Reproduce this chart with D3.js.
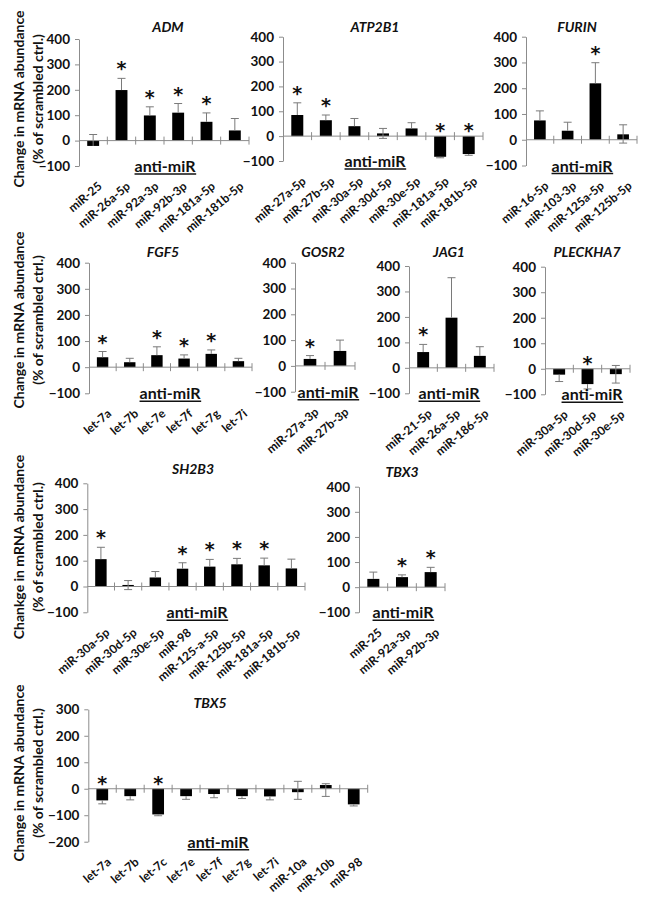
<!DOCTYPE html>
<html><head><meta charset="utf-8">
<script src="https://cdn.jsdelivr.net/npm/d3@7"></script>
<style>
body{margin:0;background:#fff}
svg{display:block}
text{font-family:Lato,'Open Sans',sans-serif;font-weight:700;fill:#111}
</style>
</head><body>
<svg id="c" width="651" height="902"></svg>
<script>
// ---------------- DATA ----------------
const yTicksA = [-100, 0, 100, 200, 300, 400];
const yTicksB = [-200, -100, 0, 100, 200, 300];
const axisTitle = "anti-miR";

const admCats = ["miR-25","miR-26a-5p","miR-92a-3p","miR-92b-3p","miR-181a-5p","miR-181b-5p"];
const admVals = [-21, 199, 99, 110, 74, 40];
const admErrUp = [45, 46, 34, 36, 35, 47];
const admErrDown = [0, 0, 0, 0, 0, 0];
const admSig = [0, 1, 1, 1, 1, 0];

const atpCats = ["miR-27a-5p","miR-27b-5p","miR-30a-5p","miR-30d-5p","miR-30e-5p","miR-181a-5p","miR-181b-5p"];
const atpVals = [85, 64, 40, 11, 31, -83, -72];
const atpErrUp = [49, 21, 31, 20, 23, 0, 0];
const atpErrDown = [0, 0, 0, 20, 0, 4, 5];
const atpSig = [1, 1, 0, 0, 0, 1, 1];

const furCats = ["miR-16-5p","miR-103-3p","miR-125a-5p","miR-125b-5p"];
const furVals = [75, 35, 219, 21];
const furErrUp = [37, 33, 80, 37];
const furErrDown = [0, 0, 0, 34];
const furSig = [0, 0, 1, 0];

const fgfCats = ["let-7a","let-7b","let-7e","let-7f","let-7g","let-7i"];
const fgfVals = [38, 19, 46, 33, 51, 23];
const fgfErrUp = [22, 15, 32, 14, 15, 11];
const fgfErrDown = [0, 0, 0, 0, 0, 0];
const fgfSig = [1, 0, 1, 1, 1, 0];

const gosCats = ["miR-27a-3p","miR-27b-3p"];
const gosVals = [27, 58];
const gosErrUp = [13, 42];
const gosErrDown = [0, 0];
const gosSig = [1, 0];

const jagCats = ["miR-21-5p","miR-26a-5p","miR-186-5p"];
const jagVals = [62, 197, 47];
const jagErrUp = [30, 157, 36];
const jagErrDown = [0, 0, 0];
const jagSig = [1, 0, 0];

const pleCats = ["miR-30a-5p","miR-30d-5p","miR-30e-5p"];
const pleVals = [-23, -60, -21];
const pleErrUp = [0, 0, 34];
const pleErrDown = [27, 19, 35];
const pleSig = [0, 1, 0];

const shCats = ["miR-30a-5p","miR-30d-5p","miR-30e-5p","miR-98","miR-125-a-5p","miR-125b-5p","miR-181a-5p","miR-181b-5p"];
const shVals = [106, 6, 35, 69, 77, 86, 82, 70];
const shErrUp = [46, 17, 23, 23, 28, 23, 28, 36];
const shErrDown = [0, 18, 0, 0, 0, 0, 0, 0];
const shSig = [1, 0, 0, 1, 1, 1, 1, 0];

const tb3Cats = ["miR-25","miR-92a-3p","miR-92b-3p"];
const tb3Vals = [33, 40, 60];
const tb3ErrUp = [27, 9, 19];
const tb3ErrDown = [0, 0, 0];
const tb3Sig = [0, 1, 1];

const tb5Cats = ["let-7a","let-7b","let-7c","let-7e","let-7f","let-7g","let-7i","miR-10a","miR-10b","miR-98"];
const tb5Vals = [-44, -28, -97, -28, -20, -28, -29, -13, 14, -59];
const tb5ErrUp = [0, 0, 0, 0, 0, 0, 0, 41, 5, 0];
const tb5ErrDown = [13, 14, 5, 12, 14, 9, 13, 27, 43, 6];
const tb5Sig = [1, 0, 1, 0, 0, 0, 0, 0, 0, 0];

const yLabel1 = ["Change in mRNA abundance", "Chankge in mRNA abundance"];
const yLabel2 = "(% of scrambled ctrl.)";

// ---------------- LAYOUT ----------------
const panels = [
  {title:"ADM", cats:admCats, vals:admVals, up:admErrUp, dn:admErrDown, sig:admSig, ticks:yTicksA,
   x0:79, x1:249, yT:39, yB:166, tx:168, ty:32, ax:165},
  {title:"ATP2B1", cats:atpCats, vals:atpVals, up:atpErrUp, dn:atpErrDown, sig:atpSig, ticks:yTicksA,
   x0:283, x1:483, yT:36.7, yB:161, tx:375, ty:32, ax:375},
  {title:"FURIN", cats:furCats, vals:furVals, up:furErrUp, dn:furErrDown, sig:furSig, ticks:yTicksA,
   x0:526, x1:637, yT:36.7, yB:165.5, tx:577, ty:32, ax:582},
  {title:"FGF5", cats:fgfCats, vals:fgfVals, up:fgfErrUp, dn:fgfErrDown, sig:fgfSig, ticks:yTicksA,
   x0:89, x1:252, yT:262.7, yB:393.3, tx:163, ty:257, ax:170},
  {title:"GOSR2", cats:gosCats, vals:gosVals, up:gosErrUp, dn:gosErrDown, sig:gosSig, ticks:yTicksA,
   x0:295, x1:355, yT:262.7, yB:391.7, tx:323, ty:257, ax:328},
  {title:"JAG1", cats:jagCats, vals:jagVals, up:jagErrUp, dn:jagErrDown, sig:jagSig, ticks:yTicksA,
   x0:409, x1:494, yT:266, yB:393.3, tx:449, ty:257, ax:449},
  {title:"PLECKHA7", cats:pleCats, vals:pleVals, up:pleErrUp, dn:pleErrDown, sig:pleSig, ticks:yTicksA,
   x0:545, x1:630, yT:266.7, yB:394.3, tx:587, ty:257, ax:592},
  {title:"SH2B3", cats:shCats, vals:shVals, up:shErrUp, dn:shErrDown, sig:shSig, ticks:yTicksA,
   x0:87.3, x1:305, yT:483.3, yB:612.3, tx:193, ty:474, ax:197},
  {title:"TBX3", cats:tb3Cats, vals:tb3Vals, up:tb3ErrUp, dn:tb3ErrDown, sig:tb3Sig, ticks:yTicksA,
   x0:359, x1:445, yT:486.7, yB:612.3, tx:402, ty:477, ax:403},
  {title:"TBX5", cats:tb5Cats, vals:tb5Vals, up:tb5ErrUp, dn:tb5ErrDown, sig:tb5Sig, ticks:yTicksB,
   x0:88.3, x1:367.7, yT:709.3, yB:841.7, tx:210, ty:708, ax:218}
];
const yLabels = [
  {cy:99, l1:yLabel1[0]}, {cy:320, l1:yLabel1[0]}, {cy:547, l1:yLabel1[1]}, {cy:773, l1:yLabel1[0]}
];

const AXIS = "#8c8c8c", ERR = "#7a7a7a";
const svg = d3.select("#c");

// y-axis titles
yLabels.forEach(r => {
  const g = svg.append("g").attr("transform", `translate(0,${r.cy})`);
  g.append("text").attr("transform","translate(24,0) rotate(-90)").attr("text-anchor","middle")
    .attr("font-size", 14).text(r.l1);
  g.append("text").attr("transform","translate(43,0) rotate(-90)").attr("text-anchor","middle")
    .attr("font-size", 14).text(yLabel2);
});

panels.forEach(p => {
  const g = svg.append("g");
  const dom = d3.extent(p.ticks);
  const y = d3.scaleLinear().domain(dom).range([p.yB, p.yT]);
  const x = d3.scaleBand().domain(p.cats).range([p.x0, p.x1]).paddingInner(0).paddingOuter(0);
  const bw = x.bandwidth();
  const barW = bw * 0.42;
  const y0 = y(0);

  // y axis
  const ya = g.append("g").attr("transform", `translate(${p.x0},0)`)
    .call(d3.axisLeft(y).tickValues(p.ticks).tickSize(4).tickSizeOuter(0).tickPadding(5));
  ya.select(".domain").attr("stroke", AXIS);
  ya.selectAll(".tick line").attr("stroke", AXIS);
  ya.selectAll(".tick text").attr("font-size", 13.5).attr("font-family","Lato,sans-serif")
    .attr("font-weight",700).attr("fill","#111");

  // bars
  g.selectAll("rect.bar").data(p.vals).join("rect")
    .attr("x", (d,i) => x(p.cats[i]) + (bw - barW)/2)
    .attr("width", barW)
    .attr("y", d => Math.min(y(d), y0))
    .attr("height", d => Math.abs(y(d) - y0))
    .attr("fill", "#000");

  // error bars and significance marks
  p.vals.forEach((v,i) => {
    const cx = x(p.cats[i]) + bw/2;
    const hi = v + p.up[i], lo = v - p.dn[i];
    g.append("line").attr("x1",cx).attr("x2",cx).attr("y1",y(hi)).attr("y2",y(lo))
      .attr("stroke",ERR).attr("stroke-width",1);
    if (p.up[i] > 0) g.append("line").attr("x1",cx-4).attr("x2",cx+4).attr("y1",y(hi)).attr("y2",y(hi))
      .attr("stroke",ERR).attr("stroke-width",1);
    if (p.dn[i] > 0) g.append("line").attr("x1",cx-4).attr("x2",cx+4).attr("y1",y(lo)).attr("y2",y(lo))
      .attr("stroke",ERR).attr("stroke-width",1);
    if (p.sig[i]) {
      const top = Math.max(0, hi);
      const sc = y(top) - (hi > 0 ? 14 : 10);
      g.append("text").attr("x",cx).attr("y",sc+11).attr("text-anchor","middle")
        .style("font-family","'DejaVu Sans',sans-serif").attr("font-size",19).attr("fill","#000").text("*");
    }
  });

  // x axis line and cross ticks
  g.append("line").attr("x1",p.x0).attr("x2",p.x1).attr("y1",y0).attr("y2",y0).attr("stroke",AXIS);
  const bounds = p.cats.slice(1).map(c => x(c)).concat([x.range()[1]]);
  g.selectAll("line.xt").data(bounds).join("line")
    .attr("x1",d=>d).attr("x2",d=>d).attr("y1",y0-4).attr("y2",y0+4).attr("stroke",AXIS);

  // category labels
  g.selectAll("text.cat").data(p.cats).join("text")
    .attr("transform", d => `translate(${x(d)+bw/2+4},${p.yB+15}) rotate(-40)`)
    .attr("text-anchor","end").attr("dy","0.72em").attr("font-size",12).text(d=>d);

  // title
  g.append("text").attr("x",p.tx).attr("y",p.ty).attr("text-anchor","middle")
    .attr("font-size",14).attr("font-style","italic").text(p.title);

  // anti-miR
  const at = g.append("text").attr("x",p.ax).attr("y",p.yB+6).attr("text-anchor","middle")
    .attr("font-size",16).text(axisTitle);
  const bb = at.node().getBBox();
  g.append("line").attr("x1",bb.x).attr("x2",bb.x+bb.width).attr("y1",p.yB+8).attr("y2",p.yB+8)
    .attr("stroke","#111").attr("stroke-width",1.4);
});
</script>
</body></html>
